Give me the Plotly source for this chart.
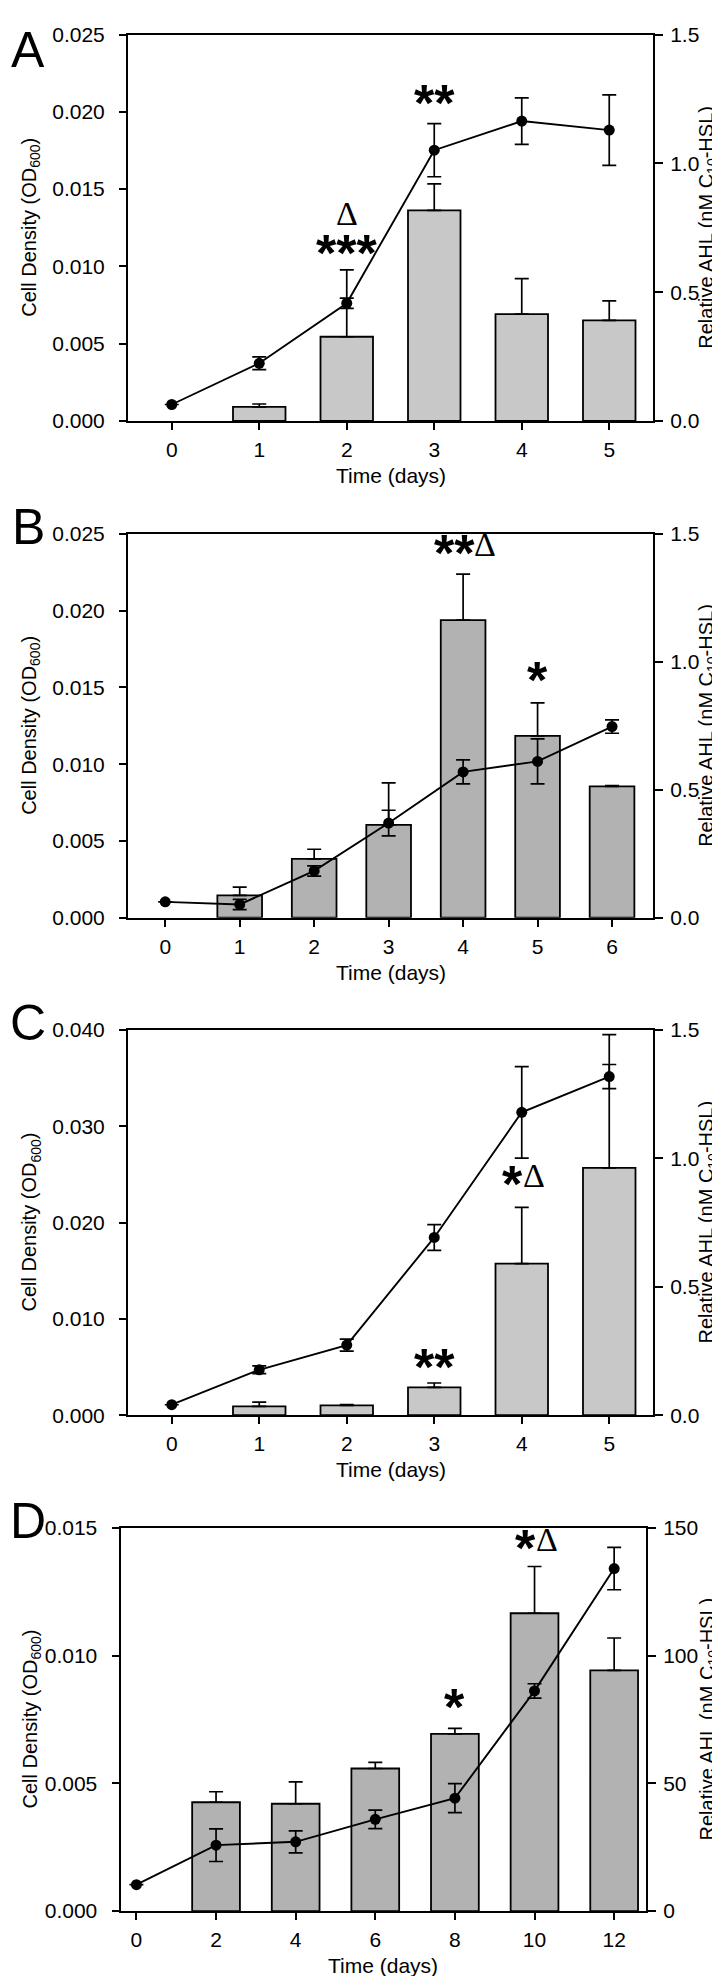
import plotly.graph_objects as go

W, H = 720, 1976

# ---- data ----
# panel A
a_days = [0, 1, 2, 3, 4, 5]
a_bar_days = [1, 2, 3, 4, 5]
a_od = [0.00091, 0.00545, 0.01362, 0.00691, 0.00651]
a_od_err = [0.00019, 0.00432, 0.00172, 0.0023, 0.00126]
a_ahl = [0.064, 0.224, 0.457, 1.051, 1.164, 1.129]
a_ahl_err = [0, 0.025, 0.02, 0.103, 0.09, 0.137]

# panel B
b_days = [0, 1, 2, 3, 4, 5, 6]
b_bar_days = [1, 2, 3, 4, 5, 6]
b_od = [0.00146, 0.00384, 0.00605, 0.01938, 0.01185, 0.00856]
b_od_err = [0.00054, 0.00062, 0.00273, 0.003, 0.00214, 0.00004]
b_ahl = [0.062, 0.052, 0.183, 0.37, 0.57, 0.611, 0.747]
b_ahl_err = [0, 0.02, 0.02, 0.05, 0.047, 0.088, 0.026]

# panel C
c_days = [0, 1, 2, 3, 4, 5]
c_bar_days = [1, 2, 3, 4, 5]
c_od = [0.00092, 0.00103, 0.0029, 0.01573, 0.02567]
c_od_err = [0.00045, 0.00007, 0.00045, 0.00584, 0.01382]
c_ahl = [0.041, 0.177, 0.273, 0.692, 1.179, 1.318]
c_ahl_err = [0, 0.015, 0.023, 0.05, 0.178, 0.047]

# panel D
d_days = [0, 2, 4, 6, 8, 10, 12]
d_bar_days = [2, 4, 6, 8, 10, 12]
d_od = [0.00426, 0.0042, 0.00558, 0.00694, 0.01166, 0.00942]
d_od_err = [0.00041, 0.00086, 0.00024, 0.00021, 0.00183, 0.00127]
d_ahl = [10.3, 25.8, 27.1, 35.9, 44.2, 86.2, 134.1]
d_ahl_err = [0, 6.4, 4.3, 3.6, 5.7, 2.8, 8.3]

# significance marks: (day, left-axis value, stars, delta)
a_marks = [(2, 0.01074, "***", ""), (2, 0.0131, "", "\u0394"), (3, 0.02045, "**", "")]
b_marks = [(4, 0.0236, "**", "\u0394"), (5, 0.01534, "*", "")]
c_marks = [(3, 0.00479, "**", ""), (4, 0.02376, "*", "\u0394")]
d_marks = [(8, 0.00793, "*", ""), (10, 0.01412, "*", "\u0394")]

y_title = "Cell Density (OD<sub>600</sub>)"
y2_title = "Relative AHL (nM C<sub>10</sub>-HSL)"
x_title = "Time (days)"

SANS = "Liberation Sans, Arial, sans-serif"
SERIF = "Liberation Serif, Times New Roman, serif"

panels = [
    dict(letter="A", days=a_days, bdays=a_bar_days, od=a_od, ode=a_od_err, ahl=a_ahl, ahle=a_ahl_err,
         marks=a_marks, fill="#c8c8c8", bw=0.6, xr=[-0.5, 5.5], tv=a_days,
         yr=[0, 0.025], dt=0.005, fmt=".3f", y2r=[0, 1.5], dt2=0.5, fmt2=".1f",
         box=(120, 645, 14.7, 405.7)),
    dict(letter="B", days=b_days, bdays=b_bar_days, od=b_od, ode=b_od_err, ahl=b_ahl, ahle=b_ahl_err,
         marks=b_marks, fill="#b2b2b2", bw=0.6, xr=[-0.5, 6.55], tv=b_days,
         yr=[0, 0.025], dt=0.005, fmt=".3f", y2r=[0, 1.5], dt2=0.5, fmt2=".1f",
         box=(120, 645, 520, 908.3)),
    dict(letter="C", days=c_days, bdays=c_bar_days, od=c_od, ode=c_od_err, ahl=c_ahl, ahle=c_ahl_err,
         marks=c_marks, fill="#c8c8c8", bw=0.6, xr=[-0.5, 5.5], tv=c_days,
         yr=[0, 0.04], dt=0.01, fmt=".3f", y2r=[0, 1.5], dt2=0.5, fmt2=".1f",
         box=(120, 645, 1021.7, 1411.7)),
    dict(letter="D", days=d_days, bdays=d_bar_days, od=d_od, ode=d_od_err, ahl=d_ahl, ahle=d_ahl_err,
         marks=d_marks, fill="#b2b2b2", bw=1.2, xr=[-0.4, 12.8], tv=d_days,
         yr=[0, 0.015], dt=0.005, fmt=".3f", y2r=[0, 150], dt2=50, fmt2="d",
         box=(112.5, 638, 1525.7, 1913.3)),
]

fig = go.Figure()
layout = dict(width=W, height=H, margin=dict(l=0, r=0, t=0, b=0),
              paper_bgcolor="white", plot_bgcolor="white", showlegend=False,
              font=dict(family=SANS, color="black"))
annotations = []

for i, p in enumerate(panels):
    n = i + 1
    xa = "x" if n == 1 else "x%d" % n
    ya = "y%d" % (2 * n - 1) if n > 1 else "y"
    yb = "y%d" % (2 * n)
    left, right, top, bottom = p["box"]
    xdom = [left / W, right / W]
    ydom = [1 - bottom / H, 1 - top / H]

    fig.add_trace(go.Bar(
        x=p["bdays"], y=p["od"], width=p["bw"], xaxis=xa, yaxis=ya,
        marker=dict(color=p["fill"], line=dict(color="black", width=1.8)),
        error_y=dict(type="data", symmetric=False, array=p["ode"],
                     arrayminus=[0] * len(p["ode"]), color="black", thickness=1.7, width=7),
    ))
    fig.add_trace(go.Scatter(
        x=p["days"], y=p["ahl"], xaxis=xa, yaxis=yb, mode="lines+markers",
        line=dict(color="black", width=1.9), marker=dict(color="black", size=11),
        error_y=dict(type="data", array=p["ahle"], color="black", thickness=1.7, width=7),
    ))

    axis_common = dict(showline=True, linecolor="black", linewidth=2, ticks="outside",
                       tickcolor="black", tickwidth=2, showgrid=False, zeroline=False,
                       tickfont=dict(family=SANS, size=21, color="black"), fixedrange=True)
    layout["xaxis" + ("" if n == 1 else str(n))] = dict(
        axis_common, domain=xdom, anchor=ya, range=p["xr"], tickmode="array",
        tickvals=p["tv"], ticklen=7, mirror=True, ticklabelstandoff=2)
    layout["yaxis" + ("" if n == 1 else str(2 * n - 1))] = dict(
        axis_common, domain=ydom, anchor=xa, range=p["yr"], dtick=p["dt"], tick0=0,
        tickformat=p["fmt"], ticklen=7, side="left", ticklabelstandoff=10)
    layout["yaxis" + str(2 * n)] = dict(
        axis_common, domain=ydom, anchor=xa, overlaying=ya, side="right",
        range=p["y2r"], dtick=p["dt2"], tick0=0, tickformat=p["fmt2"], ticklen=8,
        ticklabelstandoff=3)

    # panel letter: keep the top one inside the page
    if n == 1:
        letter = dict(y=1, yanchor="top")
    else:
        letter = dict(y=1 - (top - 7) / H, yanchor="middle")
    ymid = 1 - (top + bottom) / 2 / H
    annotations += [
        dict(letter, text=p["letter"], x=20 / W, xref="paper", yref="paper",
             showarrow=False, font=dict(family=SANS, size=50), xanchor="center"),
        dict(text=y_title, x=23 / W, y=ymid, xref="paper", yref="paper", textangle=-90,
             showarrow=False, font=dict(family=SANS, size=20), xanchor="center", yanchor="middle"),
        dict(text=y2_title, x=700 / W, y=ymid, xref="paper", yref="paper", textangle=-90,
             showarrow=False, font=dict(family=SANS, size=20), xanchor="center", yanchor="middle"),
        dict(text=x_title, x=(left + right) / 2 / W, y=1 - (bottom + 55) / H, xref="paper",
             yref="paper", showarrow=False, font=dict(family=SANS, size=21),
             xanchor="center", yanchor="middle"),
    ]
    for day, val, stars, delta in p["marks"]:
        both = stars and delta
        if stars:
            annotations.append(dict(
                text="<b>%s</b>" % stars, x=day, y=val, xref=xa, yref=ya, showarrow=False,
                font=dict(family=SANS, size=52), xanchor="center", yanchor="middle",
                xshift=(-9 if both else 0), yshift=2))
        if delta:
            annotations.append(dict(
                text=delta, x=day, y=val, xref=xa, yref=ya, showarrow=False,
                font=dict(family=SERIF, size=34), xanchor="center", yanchor="middle",
                xshift=(2 + 10 * len(stars) if both else 0), yshift=(11 if both else 5)))

layout["annotations"] = annotations
fig.update_layout(**layout)
fig.write_html("out.html")
